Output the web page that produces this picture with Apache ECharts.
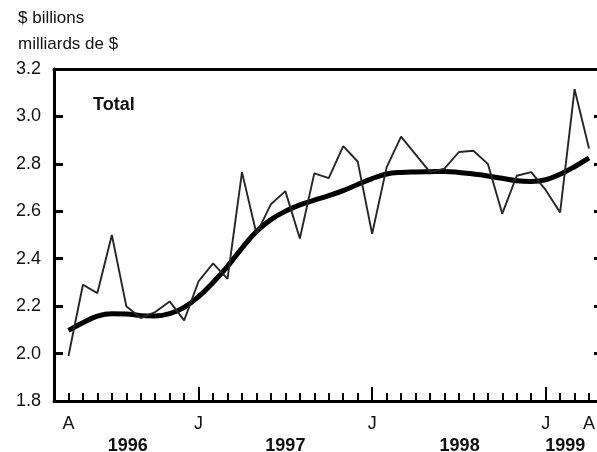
<!DOCTYPE html>
<html>
<head>
<meta charset="utf-8">
<script src="https://cdn.jsdelivr.net/npm/echarts@6/dist/echarts.min.js"></script>
<style>
html,body{margin:0;padding:0;background:#fff;}
#chart{width:597px;height:452px;}
</style>
</head>
<body>
<div id="chart"></div>
<script>
// ---- Data ----
const months = [
  'Apr 1996','May 1996','Jun 1996','Jul 1996','Aug 1996','Sep 1996','Oct 1996','Nov 1996','Dec 1996',
  'Jan 1997','Feb 1997','Mar 1997','Apr 1997','May 1997','Jun 1997','Jul 1997','Aug 1997','Sep 1997','Oct 1997','Nov 1997','Dec 1997',
  'Jan 1998','Feb 1998','Mar 1998','Apr 1998','May 1998','Jun 1998','Jul 1998','Aug 1998','Sep 1998','Oct 1998','Nov 1998','Dec 1998',
  'Jan 1999','Feb 1999','Mar 1999','Apr 1999'
];
const totalMonthly = [
  1.99, 2.29, 2.255, 2.50, 2.20, 2.15, 2.175, 2.22, 2.14,
  2.305, 2.38, 2.315, 2.765, 2.505, 2.63, 2.685, 2.485, 2.76, 2.74, 2.875, 2.81,
  2.505, 2.785, 2.915, 2.84, 2.765, 2.78, 2.85, 2.855, 2.80, 2.59, 2.75, 2.765,
  2.69, 2.595, 3.115, 2.865
];
const totalTrend = [
  2.098, 2.13, 2.158, 2.168, 2.167, 2.16, 2.158, 2.168, 2.195,
  2.24, 2.30, 2.368, 2.445, 2.515, 2.565, 2.60, 2.627, 2.647, 2.666, 2.687, 2.713,
  2.738, 2.757, 2.764, 2.766, 2.767, 2.768, 2.764, 2.757, 2.749, 2.739, 2.729, 2.726,
  2.733, 2.756, 2.788, 2.825
];
const labeledMonths = ['Apr 1996','Jan 1997','Jan 1998','Jan 1999','Apr 1999'];
const yearLabels = ['1996','1997','1998','1999'];
const yearLabelAt = [4.1, 15.0, 27.05, 34.35];   // month index of each year label centre
const yTicks = ['1.8','2.0','2.2','2.4','2.6','2.8','3.0','3.2'];
const panelTitle = 'Total';
const unitLines = ['$ billions', 'milliards de $'];

// ---- Build ----
const FONT = '"Liberation Sans", Arial, Helvetica, sans-serif';
const idx = months.map((m, i) => i);
const janIdx = months.map((m, i) => m.startsWith('Jan') ? i : -1).filter(i => i >= 0);
const labelIdx = labeledMonths.map(m => months.indexOf(m));
const xMin = -1, xMax = 36.55;
const yMin = parseFloat(yTicks[0]), yMax = parseFloat(yTicks[yTicks.length - 1]);

const chart = echarts.init(document.getElementById('chart'), null, {renderer: 'canvas'});
const baseX = {type: 'value', min: xMin, max: xMax, splitLine: {show: false}};
chart.setOption({
  animation: false,
  backgroundColor: '#fff',
  textStyle: {fontFamily: FONT},
  title: [
    {text: unitLines.join('\n'), left: 13, top: 0,
     textStyle: {fontFamily: FONT, fontSize: 17, fontWeight: 'normal', color: '#111', lineHeight: 26}},
    {text: panelTitle, left: 88, top: 91,
     textStyle: {fontFamily: FONT, fontSize: 18, fontWeight: 'bold', color: '#111'}}
  ],
  grid: {left: 54, right: 0, top: 69, bottom: 51, containLabel: false, outerBoundsMode: 'none'},
  xAxis: [
    Object.assign({}, baseX, {
      position: 'bottom',
      axisLine: {show: true, onZero: false, lineStyle: {color: '#000', width: 3}},
      axisTick: {show: true, inside: true, length: 8, customValues: idx, lineStyle: {color: '#000', width: 2}},
      axisLabel: {show: true, customValues: labelIdx, margin: 14, fontSize: 18, color: '#111', fontFamily: FONT,
        formatter: v => months[Math.round(v)].charAt(0)}
    }),
    Object.assign({}, baseX, {
      position: 'bottom',
      axisLine: {show: false, onZero: false},
      axisTick: {show: true, inside: true, length: 14, customValues: janIdx, lineStyle: {color: '#000', width: 2}},
      axisLabel: {show: false}
    }),
    Object.assign({}, baseX, {
      position: 'bottom',
      axisLine: {show: false, onZero: false},
      axisTick: {show: false},
      axisLabel: {show: true, customValues: yearLabelAt, margin: 36, fontSize: 18, fontWeight: 'bold', color: '#111', fontFamily: FONT,
        formatter: v => yearLabels[yearLabelAt.indexOf(v)]}
    }),
    Object.assign({}, baseX, {
      position: 'top',
      axisLine: {show: true, onZero: false, lineStyle: {color: '#000', width: 3}},
      axisTick: {show: false},
      axisLabel: {show: false}
    })
  ],
  yAxis: [
    {type: 'value', min: yMin, max: yMax, interval: 0.2, position: 'left',
     axisLine: {show: true, onZero: false, lineStyle: {color: '#000', width: 3}},
     axisTick: {show: true, inside: true, length: 9, lineStyle: {color: '#000', width: 3}},
     axisLabel: {margin: 13, fontSize: 18, color: '#111', fontFamily: FONT, formatter: v => v.toFixed(1)},
     splitLine: {show: false}},
    {type: 'value', min: yMin, max: yMax, interval: 0.2, position: 'right',
     axisLine: {show: false, onZero: false},
     axisTick: {show: true, inside: true, length: 3, lineStyle: {color: '#000', width: 3}},
     axisLabel: {show: false},
     splitLine: {show: false}}
  ],
  series: [
    {type: 'line', xAxisIndex: 0, yAxisIndex: 0, showSymbol: false, symbol: 'none',
     data: totalMonthly.map((v, i) => [i, v]),
     lineStyle: {color: '#262626', width: 1.9}, z: 3},
    {type: 'line', xAxisIndex: 0, yAxisIndex: 0, showSymbol: false, symbol: 'none', smooth: 0.4,
     data: totalTrend.map((v, i) => [i, v]),
     lineStyle: {color: '#000', width: 5}, z: 2}
  ]
});
</script>
</body>
</html>
